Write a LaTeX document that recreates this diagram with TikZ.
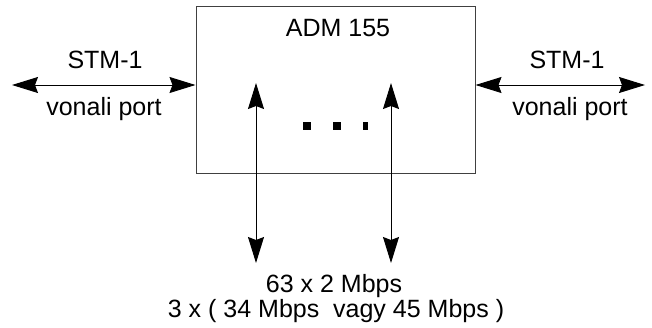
\documentclass[tikz,border=0pt]{standalone}
\usepackage{fontspec}
\setmainfont{Liberation Sans}
\usetikzlibrary{arrows.meta}
\begin{document}
\begin{tikzpicture}[x=1pt,y=-1pt,
  lbl/.style={inner sep=0pt,anchor=base,font=\fontsize{25}{30}\selectfont},
  conn/.style={line width=0.9pt,{Stealth[length=26pt,width=16pt,inset=3pt]}-{Stealth[length=26pt,width=16pt,inset=3pt]}},
  dotsq/.style={fill=black,inner sep=0pt,minimum width=7.5pt,minimum height=7.5pt}]
\useasboundingbox (0,0) rectangle (652,327);
\node[draw=black!75,line width=1pt,minimum width=279pt,minimum height=167pt,inner sep=0pt] (adm) at (335.5,89.5) {};
\node[lbl] (admt) at (338,36) {ADM 155};
\coordinate (lend) at (12,85);
\coordinate (rend) at (645,85);
\draw[conn] (lend) -- (lend -| adm.west);
\draw[conn] (adm.east |- rend) -- (rend);
\node[lbl] (stml) at (105,68) {STM-1};
\node[lbl] (vpl) at (104,115) {vonali port};
\node[lbl] (stmr) at (567,68) {STM-1};
\node[lbl] (vpr) at (570,115) {vonali port};
\coordinate (a1t) at (256,83);
\coordinate (a1b) at (256,263);
\coordinate (a2t) at (391,83);
\coordinate (a2b) at (391,263);
\draw[conn] (a1t) -- (a1b);
\draw[conn] (a2t) -- (a2b);
\node[dotsq] (d1) at (307,126) {};
\node[dotsq] (d2) at (337,126) {};
\node[dotsq,minimum width=5.5pt] (d3) at (365.5,126) {};
\node[lbl] (b1) at (334,292) {63 x 2 Mbps};
\node[lbl] (b2) at (336,317) {3 x ( 34 Mbps \ vagy 45 Mbps )};
\end{tikzpicture}
\end{document}
